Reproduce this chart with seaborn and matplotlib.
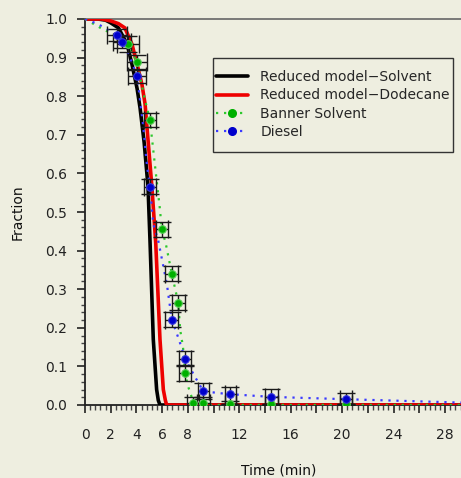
import matplotlib
matplotlib.use('Agg')
import matplotlib.pyplot as plt
import seaborn as sns
from matplotlib.lines import Line2D
from matplotlib.patches import Rectangle
from matplotlib.ticker import FixedLocator, MultipleLocator

# ---- model curves ----
solvent_model_t = [0, 1.0, 1.6, 2.0, 2.6, 3.27, 3.65, 4.05, 4.28, 4.6, 4.9, 5.05, 5.31, 5.57, 5.7, 5.83, 29.5]
solvent_model_f = [1.0, 1.0, 0.997, 0.99, 0.977, 0.935, 0.883, 0.82, 0.77, 0.68, 0.566, 0.43, 0.17, 0.04, 0.012, 0.0, 0.0]

dodecane_model_t = [0, 1.3, 2.0, 2.6, 3.1, 3.65, 4.05, 4.43, 4.67, 5.2, 5.5, 5.83, 6.09, 6.25, 6.35, 29.5]
dodecane_model_f = [1.0, 1.0, 0.995, 0.988, 0.977, 0.935, 0.883, 0.83, 0.78, 0.566, 0.42, 0.17, 0.04, 0.012, 0.0, 0.0]

# ---- dotted trend lines ----
banner_line_t = [0, 1.2, 2.2, 3.37, 4.03, 4.6, 5.05, 5.45, 5.83, 5.97, 6.27, 6.75, 7.25, 7.4, 7.62, 7.78, 8.0, 8.3, 8.6, 9.2, 29.5]
banner_line_f = [1.0, 0.977, 0.96, 0.935, 0.888, 0.8, 0.738, 0.618, 0.506, 0.455, 0.42, 0.34, 0.265, 0.195, 0.15, 0.083, 0.05, 0.02, 0.004, 0.0, 0.0]

diesel_line_t = [0, 1.0, 1.8, 2.49, 2.9, 3.5, 4.05, 4.5, 4.82, 5.05, 5.3, 5.7, 6.07, 6.38, 6.75, 7.3, 7.78, 8.55, 9.2, 10.35, 11.3, 14.5, 20.3, 29.5]
diesel_line_f = [1.0, 0.987, 0.972, 0.958, 0.94, 0.9, 0.852, 0.73, 0.62, 0.566, 0.47, 0.425, 0.363, 0.31, 0.221, 0.17, 0.12, 0.073, 0.036, 0.031, 0.028, 0.021, 0.015, 0.006]

# ---- measured points ----
banner_t = [3.37, 4.03, 5.05, 5.97, 6.75, 7.25, 7.78, 8.4, 9.2, 11.3, 14.5, 20.3]
banner_f = [0.935, 0.888, 0.738, 0.455, 0.34, 0.265, 0.083, 0.004, 0.004, 0.002, 0.002, 0.002]
banner_terr = [0.85, 0.78, 0.47, 0.47, 0.5, 0.5, 0.5, 0.5, 0.5, 0.45, 0.47, 0.47]
banner_ferr = [0.02, 0.02, 0.018, 0.02, 0.02, 0.02, 0.02, 0.018, 0.018, 0.0, 0.0, 0.0]

diesel_t = [2.49, 2.9, 4.05, 5.05, 6.75, 7.78, 9.2, 11.3, 14.5, 20.3]
diesel_f = [0.958, 0.94, 0.852, 0.566, 0.221, 0.12, 0.036, 0.028, 0.021, 0.015]
diesel_terr = [0.8, 0.7, 0.7, 0.5, 0.5, 0.5, 0.45, 0.45, 0.47, 0.47]
diesel_ferr = [0.015, 0.015, 0.018, 0.02, 0.02, 0.02, 0.02, 0.018, 0.02, 0.016]

legend_labels = ['Reduced model\u2212Solvent', 'Reduced model\u2212Dodecane', 'Banner Solvent', 'Diesel']
x_major = [0, 2, 4, 6, 8, 10, 12, 14, 16, 18, 20, 22, 24, 26, 28]
x_labels = ['0', '2', '4', '6', '8', '', '12', '', '16', '', '20', '', '24', '', '28']
y_major = [0.0, 0.1, 0.2, 0.3, 0.4, 0.5, 0.6, 0.7, 0.8, 0.9, 1.0]
y_labels = ['0.0', '0.1', '0.2', '0.3', '0.4', '0.5', '0.6', '0.7', '0.8', '0.9', '1.0']

BG = '#EEEEE0'
BLUE = '#0000CC'
GREEN = '#00B000'
BLUE_DOT = '#3A3AFF'
GREEN_DOT = '#2EC82E'

sns.set_style('ticks', {'axes.facecolor': BG, 'figure.facecolor': BG})
plt.rcParams['font.family'] = ['DejaVu Sans']
plt.rcParams['font.size'] = 10

fig = plt.figure(figsize=(4.61, 4.78), dpi=100)
ax = fig.add_axes([85 / 461, 73 / 478, 376.8 / 461, 386 / 478])

sns.lineplot(x=solvent_model_t, y=solvent_model_f, ax=ax, color='black', lw=2.6,
             sort=False, estimator=None, zorder=3)
sns.lineplot(x=dodecane_model_t, y=dodecane_model_f, ax=ax, color='#EE0000', lw=2.6,
             sort=False, estimator=None, zorder=3)
sns.lineplot(x=banner_line_t, y=banner_line_f, ax=ax, color=GREEN_DOT, lw=1.6,
             linestyle=(0, (1, 2.6)), sort=False, estimator=None, zorder=4)
sns.lineplot(x=diesel_line_t, y=diesel_line_f, ax=ax, color=BLUE_DOT, lw=1.6,
             linestyle=(0, (1, 2.6)), sort=False, estimator=None, zorder=4)

ax.errorbar(banner_t, banner_f, xerr=banner_terr, yerr=banner_ferr, fmt='none',
            ecolor='#1a1a1a', elinewidth=1.0, capsize=6.5, capthick=1.0, zorder=5)
ax.errorbar(diesel_t, diesel_f, xerr=diesel_terr, yerr=diesel_ferr, fmt='none',
            ecolor='#1a1a1a', elinewidth=1.0, capsize=6.5, capthick=1.0, zorder=5)
sns.scatterplot(x=banner_t, y=banner_f, ax=ax, color=GREEN, s=30, edgecolor='#55CC55',
                linewidth=0.8, zorder=6)
sns.scatterplot(x=diesel_t, y=diesel_f, ax=ax, color=BLUE, s=30, edgecolor='#3333DD',
                linewidth=0.8, zorder=6)

ax.set_xlim(0, 29.3)
ax.set_ylim(0, 1.0)

ax.xaxis.set_major_locator(FixedLocator(x_major))
ax.set_xticklabels(x_labels)
ax.xaxis.set_minor_locator(MultipleLocator(0.4))
ax.yaxis.set_major_locator(FixedLocator(y_major))
ax.set_yticklabels(y_labels)
ax.yaxis.set_minor_locator(MultipleLocator(0.02))

ax.tick_params(axis='x', which='major', length=5.8, width=1.2, pad=11, labelsize=10, colors='#222222')
ax.tick_params(axis='x', which='minor', length=3.4, width=1.0, colors='#444444')
ax.tick_params(axis='y', which='major', length=5.8, width=1.2, pad=7, labelsize=10, colors='#222222')
ax.tick_params(axis='y', which='minor', length=2.8, width=1.0, colors='#444444')

for s in ['left', 'bottom']:
    ax.spines[s].set_color('#222222')
    ax.spines[s].set_linewidth(1.3)
ax.spines['top'].set_color('#666666')
ax.spines['top'].set_linewidth(1.2)
ax.spines['right'].set_visible(False)

ax.set_xlabel('Time (min)', fontsize=10, color='#111111')
ax.set_ylabel('Fraction', fontsize=10, color='#111111')
ax.xaxis.set_label_coords(0.513, -0.152)
ax.yaxis.set_label_coords(-0.16, 0.5)

# legend
ax.add_patch(Rectangle((0.3397, 0.6554), 0.637, 0.2436, transform=ax.transAxes,
                       facecolor=BG, edgecolor='#333333', lw=1.0, zorder=7, clip_on=False))
handles = [
    Line2D([], [], color='black', lw=2.6),
    Line2D([], [], color='#EE0000', lw=2.6),
    Line2D([], [], color=GREEN_DOT, lw=1.6, linestyle=(0, (1, 2.6)), marker='o',
           markersize=5.5, markerfacecolor=GREEN, markeredgecolor=GREEN),
    Line2D([], [], color=BLUE_DOT, lw=1.6, linestyle=(0, (1, 2.6)), marker='o',
           markersize=5.5, markerfacecolor=BLUE, markeredgecolor=BLUE),
]
leg = ax.legend(handles, legend_labels, loc='upper left', bbox_to_anchor=(0.3477, 0.868),
                frameon=False, borderpad=0, borderaxespad=0, handlelength=2.3,
                handletextpad=0.9, labelspacing=0.32, fontsize=10, numpoints=1)
leg.set_zorder(8)

fig.savefig('out.png', dpi=100, facecolor=BG)
